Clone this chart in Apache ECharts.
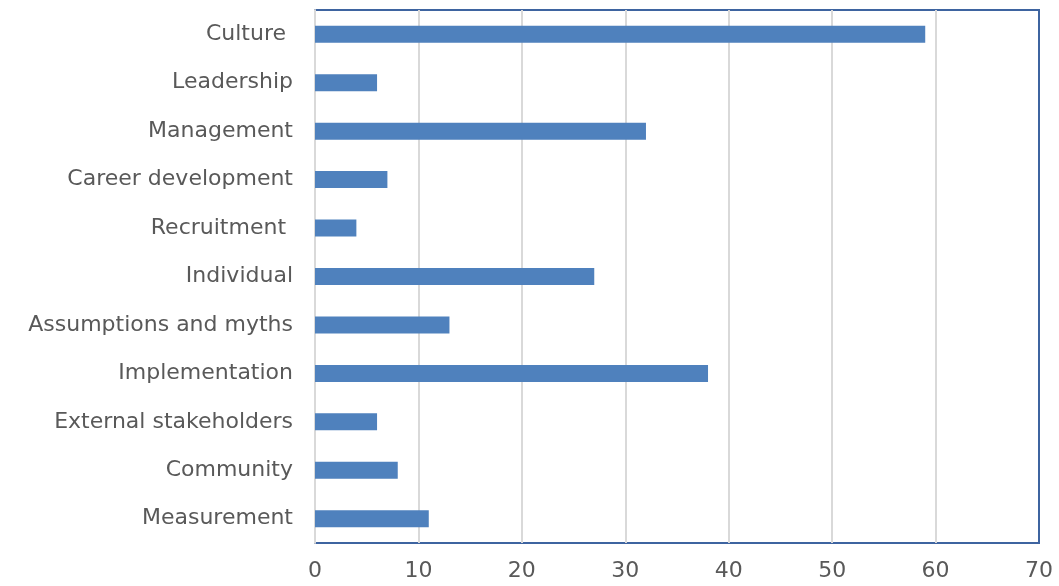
<!DOCTYPE html>
<html>
<head>
<meta charset="utf-8">
<script src="https://cdn.jsdelivr.net/npm/echarts@6/dist/echarts.min.js"></script>
<style>
  html, body { margin: 0; padding: 0; background: #fff; }
  #chart { width: 1059px; height: 586px; }
</style>
</head>
<body>
<div id="chart"></div>
<script>
// categories top to bottom
const categories = [
  "Culture ", "Leadership", "Management", "Career development", "Recruitment ",
  "Individual", "Assumptions and myths", "Implementation", "External stakeholders",
  "Community", "Measurement"
];
const counts = [59, 6, 32, 7, 4, 27, 13, 38, 6, 8, 11];

const chart = echarts.init(document.getElementById("chart"));
const font = "'DejaVu Sans', sans-serif";

chart.setOption({
  animation: false,
  grid: {
    left: 315, right: 20, top: 10, bottom: 43,
    show: true,
    borderColor: "#3E64A0",
    borderWidth: 2
  },
  xAxis: {
    type: "value",
    min: 0, max: 70, interval: 10,
    axisLine: { show: false },
    axisTick: { show: false },
    splitLine: { showMaxLine: false, lineStyle: { color: "#D9D9D9", width: 2 } },
    axisLabel: { color: "#595959", fontSize: 22, fontFamily: font, margin: 17 }
  },
  yAxis: {
    type: "category",
    data: categories,
    inverse: true,
    axisLine: { show: true, lineStyle: { color: "#D9D9D9", width: 2 } },
    axisTick: { show: false },
    axisLabel: { color: "#595959", fontSize: 22, fontFamily: font, margin: 22 }
  },
  series: [{
    type: "bar",
    data: counts,
    barWidth: 17,
    itemStyle: { color: "#4F81BD" }
  }]
});
</script>
</body>
</html>
